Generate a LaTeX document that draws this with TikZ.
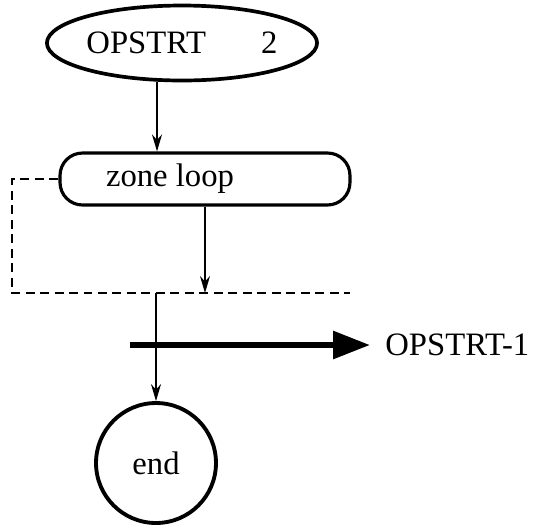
\documentclass[tikz,border=0pt]{standalone}
\usepackage{fontspec}
\setmainfont{Liberation Serif}
\usetikzlibrary{arrows.meta,positioning,calc,shapes.geometric}

\tikzset{
  lbl/.style={font=\fontsize{18.6}{21}\selectfont},
  arr/.style={-{Stealth[length=0.34cm,width=0.2cm]},line width=0.9pt},
  bigarr/.style={-{Triangle[length=0.74cm,width=0.54cm]},line width=3.4pt},
  loopline/.style={line width=1.4pt,dash pattern=on 0.18cm off 0.11cm}
}

\begin{document}
\begin{tikzpicture}[x=0.02cm,y=-0.02cm]
  \useasboundingbox (0,0) rectangle (540,525);
  \node[ellipse,draw,line width=2.1pt,minimum width=5.2cm,minimum height=1.5cm,inner sep=0pt,lbl] (opstrt) at (182,43) {OPSTRT\hspace{1.1cm}2};
  \node[draw,line width=1.8pt,rounded corners=0.45cm,minimum width=5.8cm,minimum height=1.04cm,inner sep=0pt,lbl] (zone) at (205,179) {\mbox{zone loop}\kern1.4cm};
  \node[circle,draw,line width=2.2pt,minimum size=2.4cm,inner sep=0pt,lbl] (end) at (156,463) {end};
  \node[anchor=west,inner sep=0pt,lbl] (next) at (385,345) {OPSTRT-1};
  \coordinate (lpcorner) at (12,293);
  \coordinate (lpright) at (350,293);
  \coordinate (tstart) at (130,345);
  % flow
  \draw[arr] ([xshift=-0.5cm]opstrt.south) -- ([xshift=-0.5cm]opstrt.south |- zone.north);
  \draw[loopline] (zone.west) -- (zone.west -| lpcorner) -- (lpcorner) -- (lpright);
  \draw[arr] (zone.south) -- (zone.south |- lpright);
  \draw[arr] (end.north |- lpright) -- (end.north);
  \draw[bigarr,shorten >=0.3cm] (tstart) -- (next.west);
\end{tikzpicture}
\end{document}
